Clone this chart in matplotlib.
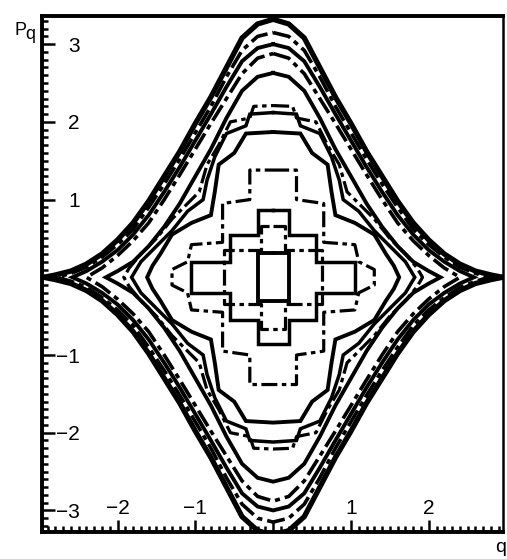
import numpy as np
import matplotlib.pyplot as plt
from matplotlib.ticker import MultipleLocator

plt.rcParams['font.family'] = ['Liberation Sans', 'DejaVu Sans']

# one quadrant (q >= 0, p >= 0) of each level curve, from (0, p_max) to (q_max, 0);
# the other three quadrants follow from the q -> -q, p -> -p symmetry
c1 = [(0, 3.32), (0.2, 3.26), (0.4, 3.08), (0.6, 2.7), (0.8, 2.32), (1.0, 1.98),
      (1.2, 1.62), (1.4, 1.3), (1.6, 0.98), (1.8, 0.7), (2.0, 0.48), (2.2, 0.3),
      (2.4, 0.17), (2.6, 0.08), (2.8, 0.03), (2.95, 0.0)]
c2 = [(0, 3.15), (0.2, 3.1), (0.4, 2.92), (0.6, 2.58), (0.8, 2.2), (1.0, 1.86),
      (1.2, 1.52), (1.4, 1.2), (1.6, 0.9), (1.8, 0.62), (2.0, 0.42), (2.2, 0.26),
      (2.4, 0.13), (2.6, 0.05), (2.78, 0.0)]
c3 = [(0, 3.0), (0.2, 2.95), (0.4, 2.78), (0.6, 2.45), (0.8, 2.1), (1.0, 1.76),
      (1.2, 1.42), (1.4, 1.1), (1.6, 0.8), (1.8, 0.55), (2.0, 0.35), (2.2, 0.2),
      (2.4, 0.08), (2.58, 0.0)]
c4 = [(0, 2.88), (0.2, 2.82), (0.4, 2.62), (0.6, 2.3), (0.8, 1.98), (1.0, 1.65),
      (1.2, 1.32), (1.4, 1.0), (1.6, 0.7), (1.8, 0.47), (2.0, 0.28), (2.2, 0.12),
      (2.4, 0.0)]
c5 = [(0, 2.63), (0.2, 2.58), (0.4, 2.4), (0.6, 2.05), (0.8, 1.65), (1.0, 1.3),
      (1.2, 0.95), (1.4, 0.65), (1.6, 0.4), (1.8, 0.2), (2.0, 0.08), (2.15, 0.0)]
c6 = [(0, 2.21), (0.25, 2.2), (0.3, 2.05), (0.55, 2.0), (0.7, 1.7), (0.85, 1.45),
      (0.95, 1.1), (1.1, 0.95), (1.3, 0.75), (1.5, 0.5), (1.7, 0.3), (1.85, 0.12),
      (1.92, 0.0)]
c7 = [(0, 2.12), (0.3, 2.1), (0.35, 1.95), (0.6, 1.85), (0.75, 1.55), (0.85, 1.25),
      (0.9, 1.0), (1.1, 0.85), (1.3, 0.6), (1.5, 0.4), (1.7, 0.2), (1.82, 0.0)]
c8 = [(0, 1.87), (0.35, 1.85), (0.5, 1.6), (0.7, 1.45), (0.75, 1.1), (0.8, 0.8),
      (1.05, 0.7), (1.3, 0.55), (1.45, 0.3), (1.55, 0.15), (1.62, 0.0)]
c9 = [(0, 1.38), (0.3, 1.38), (0.3, 1.0), (0.65, 0.95), (0.65, 0.45), (1.05, 0.42),
      (1.1, 0.2), (1.3, 0.1), (1.3, 0.0)]
c10 = [(0, 0.86), (0.2, 0.86), (0.2, 0.55), (0.55, 0.55), (0.55, 0.2), (1.05, 0.2),
       (1.05, 0.0)]
c11 = [(0, 0.66), (0.15, 0.66), (0.15, 0.35), (0.63, 0.35), (0.63, 0.0)]
c12 = [(0, 0.31), (0.2, 0.31), (0.2, 0.0)]

levels = [c1, c2, c3, c4, c5, c6, c7, c8, c9, c10, c11, c12]

x_ticks = [-2, -1, 0, 1, 2]
x_labels = ['\u22122', '\u22121', '', '1', '2']
y_ticks = [-3, -2, -1, 0, 1, 2, 3]
y_labels = ['\u22123', '\u22122', '\u22121', '', '1', '2', '3']


def closed_loop(quad):
    a = np.array(quad, dtype=float)
    q, p = a[:, 0], a[:, 1]
    qs = np.concatenate([q, q[::-1], -q, -q[::-1]])
    ps = np.concatenate([p, -p[::-1], -p, p[::-1]])
    return qs, ps


dashdot = (0, (5, 1.4, 1.4, 1.4))
styles = ['-', dashdot, '-', dashdot, '-', dashdot, '-', '-', dashdot, '-', dashdot, '-']
widths = [3.8, 2.6, 2.8, 2.6, 2.8, 2.3, 2.5, 2.8, 2.3, 2.5, 2.3, 2.8]

fig = plt.figure(figsize=(5.07, 5.59), dpi=100)
ax = fig.add_axes([0.083, 0.048, 0.910, 0.923])

for quad, ls, lw in zip(levels, styles, widths):
    qs, ps = closed_loop(quad)
    ax.plot(qs, ps, color='black', linestyle=ls, linewidth=lw,
            solid_joinstyle='miter', dash_capstyle='butt')

ax.set_xlim(-2.97, 2.96)
ax.set_ylim(-3.28, 3.36)

ax.set_xticks(x_ticks)
ax.set_xticklabels(x_labels)
ax.set_yticks(y_ticks)
ax.set_yticklabels(y_labels)
ax.xaxis.set_minor_locator(MultipleLocator(0.1))
ax.yaxis.set_minor_locator(MultipleLocator(0.1))

ax.tick_params(which='both', direction='in', top=False, right=False, width=1.8)
ax.tick_params(which='major', length=9)
ax.tick_params(which='minor', length=4.5)
ax.tick_params(axis='x', which='major', pad=-10, labelsize=15)
ax.tick_params(axis='y', which='major', pad=-27, labelsize=15)
for lab in ax.get_xticklabels():
    lab.set_verticalalignment('bottom')

for side in ['left', 'bottom', 'top']:
    ax.spines[side].set_linewidth(2.8)
ax.spines['right'].set_linewidth(1.8)

fig.text(0.028, 0.937, 'P', fontsize=13, ha='left', va='baseline')
fig.text(0.050, 0.930, 'q', fontsize=13, ha='left', va='baseline')
fig.text(0.977, 0.012, 'q', fontsize=14, ha='left', va='baseline')

fig.savefig('out.png', dpi=100)
